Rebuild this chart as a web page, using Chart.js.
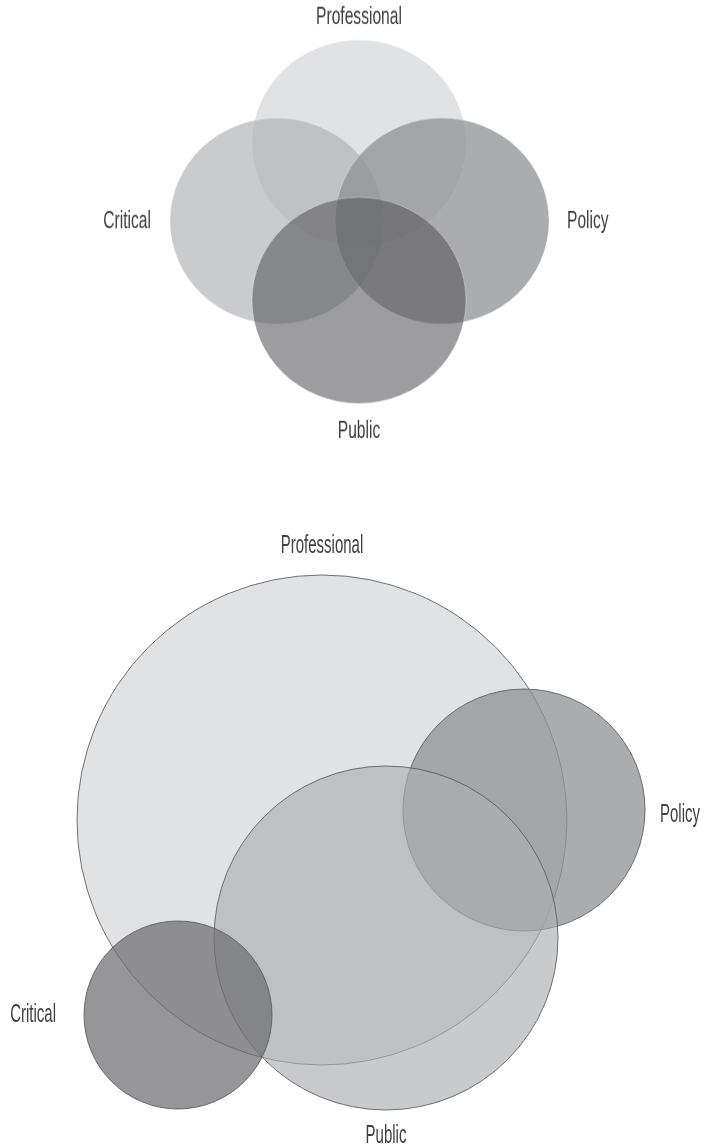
<!DOCTYPE html>
<html>
<head>
<meta charset="utf-8">
<script src="https://cdn.jsdelivr.net/npm/chart.js@4.4.1/dist/chart.umd.min.js"></script>
<style>
  html, body { margin: 0; padding: 0; background: #fff; }
  canvas { display: block; }
</style>
</head>
<body>
<canvas id="venn-top" width="704" height="457" style="width:704px;height:440px"></canvas>
<canvas id="venn-bottom" width="704" height="708" style="width:704px;height:708px"></canvas>
<script>
// Two Venn diagrams of the four perspectives, drawn as bubble charts
// (axes run 1 unit = 1 px, so bubble r matches the axis units)

// Upper diagram: four equal sets (drawing order)
const topNames = ['Professional', 'Critical', 'Policy', 'Public'];
const topX = [359, 277, 442, 359];
const topY = [148.5, 229.5, 229.5, 312];
const topSize = [107, 107, 107, 107];

// Lower diagram: weighted sets (drawing order)
const bottomNames = ['Professional', 'Policy', 'Public', 'Critical'];
const bottomX = [322, 524, 386, 178];
const bottomY = [380, 370, 498, 575];
const bottomSize = [245, 121, 172, 94];

const topColors = {
  Professional: '#e1e2e4',
  Critical: 'rgba(174,175,178,0.65)',
  Policy: 'rgba(145,146,149,0.76)',
  Public: 'rgba(86,87,90,0.58)',
};
const bottomColors = {
  Professional: '#e1e2e4',
  Policy: 'rgba(145,146,149,0.76)',
  Public: 'rgba(172,173,176,0.65)',
  Critical: 'rgba(109,110,113,0.72)',
};

// draws each set name beside its circle
const setLabels = {
  id: 'setLabels',
  afterDatasetsDraw(chart, args, opts) {
    const ctx = chart.ctx;
    const meta = chart.getDatasetMeta(0);
    ctx.save();
    ctx.fillStyle = opts.color;
    ctx.font = `${opts.size}px "Liberation Sans", Arial, sans-serif`;
    ctx.textBaseline = 'middle';
    meta.data.forEach((el, i) => {
      const name = chart.data.labels[i];
      const side = opts.sides[name];
      const gap = opts.gaps[name];
      const r = el.options.radius;
      let x = el.x;
      let y = el.y;
      let align = 'center';
      if (side === 'top') y -= r + gap;
      if (side === 'bottom') y += r + gap;
      if (side === 'left') { x -= r + gap; align = 'right'; }
      if (side === 'right') { x += r + gap; align = 'left'; }
      y += (opts.shift && opts.shift[name]) || 0;
      ctx.save();
      ctx.translate(x, y);
      ctx.scale(opts.squeeze, 1);
      ctx.textAlign = align;
      ctx.fillText(name, 0, 0);
      ctx.restore();
    });
    ctx.restore();
  },
};

function makeVenn(id, names, xs, ys, sizes, colors, stroke, height, labelOpts) {
  return new Chart(document.getElementById(id), {
    type: 'bubble',
    data: {
      labels: names,
      datasets: [{
        data: names.map((n, i) => ({ x: xs[i], y: ys[i], r: sizes[i] })),
        backgroundColor: names.map((n) => colors[n]),
        borderColor: stroke,
        borderWidth: 1,
        clip: false,
      }],
    },
    options: {
      responsive: false,
      animation: false,
      events: [],
      layout: { autoPadding: false, padding: 0 },
      scales: {
        x: { type: 'linear', display: false, min: 0, max: 704 },
        y: { type: 'linear', display: false, min: 0, max: height, reverse: true },
      },
      plugins: {
        legend: { display: false },
        tooltip: { enabled: false },
        setLabels: labelOpts,
      },
    },
    plugins: [setLabels],
  });
}

makeVenn('venn-top', topNames, topX, topY, topSize, topColors,
  'rgba(255,255,255,0.3)', 457, {
    color: '#404041',
    size: 26,
    squeeze: 0.6,
    sides: { Professional: 'top', Critical: 'left', Policy: 'right', Public: 'bottom' },
    gaps: { Professional: 24, Critical: 19, Policy: 18, Public: 29 },
  });

makeVenn('venn-bottom', bottomNames, bottomX, bottomY, bottomSize, bottomColors,
  'rgba(90,91,95,0.85)', 708, {
    color: '#404041',
    size: 25,
    squeeze: 0.6,
    sides: { Professional: 'top', Critical: 'left', Policy: 'right', Public: 'bottom' },
    gaps: { Professional: 29, Critical: 28, Policy: 15, Public: 26 },
    shift: { Policy: 5 },
  });
</script>
</body>
</html>
